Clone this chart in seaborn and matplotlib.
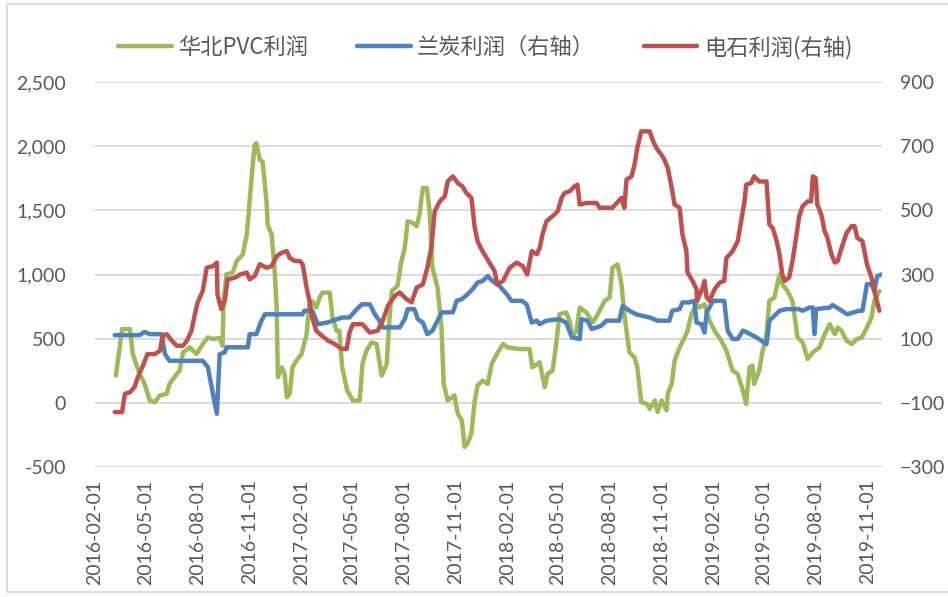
import pandas as pd
import matplotlib.pyplot as plt
import matplotlib.dates as mdates
import matplotlib.ticker as mticker
import seaborn as sns
from matplotlib.patches import Rectangle

# 华北PVC利润 (left axis)
pvc_dates = [
    "2016-03-09", "2016-03-20", "2016-04-03", "2016-04-08", "2016-04-20", "2016-04-29", "2016-05-08", "2016-05-17",
    "2016-05-26", "2016-06-07", "2016-06-12", "2016-06-25", "2016-06-30", "2016-07-06", "2016-07-18", "2016-07-30",
    "2016-08-10", "2016-08-19", "2016-08-28", "2016-09-09", "2016-09-14", "2016-09-16", "2016-09-21", "2016-10-02",
    "2016-10-09", "2016-10-20", "2016-10-27", "2016-11-01", "2016-11-06", "2016-11-10", "2016-11-13", "2016-11-19",
    "2016-11-24", "2016-12-01", "2016-12-03", "2016-12-10", "2016-12-15", "2016-12-19", "2016-12-21", "2016-12-28",
    "2017-01-02", "2017-01-06", "2017-01-11", "2017-01-16", "2017-01-23", "2017-02-01", "2017-02-10", "2017-02-15",
    "2017-02-20", "2017-02-27", "2017-03-05", "2017-03-10", "2017-03-23", "2017-03-28", "2017-04-04", "2017-04-09",
    "2017-04-14", "2017-04-23", "2017-05-03", "2017-05-15", "2017-05-20", "2017-05-27", "2017-06-05", "2017-06-14",
    "2017-06-23", "2017-07-02", "2017-07-07", "2017-07-11", "2017-07-21", "2017-07-28", "2017-08-03", "2017-08-08",
    "2017-08-17", "2017-08-24", "2017-08-29", "2017-09-04", "2017-09-11", "2017-09-16", "2017-09-21", "2017-09-30",
    "2017-10-07", "2017-10-11", "2017-10-18", "2017-10-30", "2017-11-05", "2017-11-12", "2017-11-17", "2017-11-22",
    "2017-11-29", "2017-12-05", "2017-12-10", "2017-12-19", "2017-12-28",
    "2018-01-04", "2018-01-13", "2018-01-24", "2018-02-01", "2018-02-22", "2018-03-12", "2018-03-17", "2018-03-30",
    "2018-04-08", "2018-04-13", "2018-04-22", "2018-04-29", "2018-05-04", "2018-05-16", "2018-05-22", "2018-05-27",
    "2018-06-03", "2018-06-09", "2018-06-21", "2018-07-02", "2018-07-11", "2018-07-23", "2018-08-01", "2018-08-06",
    "2018-08-15", "2018-08-22", "2018-08-27", "2018-09-05", "2018-09-14", "2018-09-19", "2018-09-26", "2018-10-06",
    "2018-10-11", "2018-10-20", "2018-10-25", "2018-11-01", "2018-11-10", "2018-11-12", "2018-11-19", "2018-11-24",
    "2018-12-03", "2018-12-12", "2018-12-17", "2018-12-24",
    "2019-01-02", "2019-01-07", "2019-01-16", "2019-01-25", "2019-02-03", "2019-02-15", "2019-02-24", "2019-03-07",
    "2019-03-16", "2019-03-25", "2019-03-31", "2019-04-06", "2019-04-11", "2019-04-14", "2019-04-23", "2019-04-28",
    "2019-05-06", "2019-05-11", "2019-05-20", "2019-05-29", "2019-06-03", "2019-06-12", "2019-06-21", "2019-06-30",
    "2019-07-09", "2019-07-18", "2019-07-27", "2019-08-08", "2019-08-17", "2019-08-26", "2019-09-04", "2019-09-09",
    "2019-09-16", "2019-09-25", "2019-10-04", "2019-10-13", "2019-10-22", "2019-10-31", "2019-11-08", "2019-11-13",
    "2019-11-22",
]
pvc_values = [
    212, 574, 574, 380, 225, 147, 18, 5, 57, 70, 147, 225, 250, 393, 432, 380,
    458, 510, 497, 505, 445, 794, 1001, 1014, 1105, 1156, 1312, 1570, 1829, 2010, 2023, 1894,
    1880, 1570, 1389, 1312, 1053, 742, 200, 277,
    225, 44, 70, 277, 329, 380, 535, 768, 794, 742, 820, 859, 859, 665, 561, 561,
    277, 96, 18, 18, 303, 406, 471, 458, 212, 303, 665, 872, 911, 1105, 1208, 1415,
    1402, 1376, 1467, 1674, 1674, 1493, 1053, 898, 587, 147, 18, 57, -85, -137, -344, -318,
    -241, 18, 135, 173, 147,
    303, 380, 458, 432, 419, 419, 277, 316, 122, 225, 251, 484, 691, 704, 639, 510,
    561, 742, 704, 626, 691, 794, 820, 1053, 1079, 924, 691, 393, 354, 277, 5, -8,
    -47, 18, -72, 18, -59, 70, 147, 329, 432, 510, 561, 691,
    768, 742, 768, 639, 561, 484, 406, 251, 225, 96, -8, 277, 290, 147, 251, 380,
    535, 794, 820, 1001, 924, 872, 794, 510, 471, 342, 393, 432, 535, 613, 535, 587,
    561, 484, 458, 497, 510, 587, 665, 794, 872,
]

# 兰炭利润 (right axis)
coke_dates = [
    "2016-03-07", "2016-04-20", "2016-04-29", "2016-05-08", "2016-05-29", "2016-06-04", "2016-06-12", "2016-08-10",
    "2016-08-19", "2016-08-28", "2016-09-04", "2016-09-09", "2016-09-18", "2016-09-21", "2016-10-29", "2016-11-01",
    "2016-11-13", "2016-11-22", "2016-11-28",
    "2017-02-03", "2017-02-06", "2017-02-20", "2017-03-02", "2017-03-18", "2017-03-28", "2017-04-14", "2017-04-27",
    "2017-05-10", "2017-05-19", "2017-06-02", "2017-06-11", "2017-06-19", "2017-06-25", "2017-07-25", "2017-08-03",
    "2017-08-08", "2017-08-20", "2017-08-26", "2017-09-04", "2017-09-12", "2017-09-21", "2017-09-30", "2017-10-07",
    "2017-10-27", "2017-11-03", "2017-11-12", "2017-11-22", "2017-12-01", "2017-12-10", "2017-12-19", "2017-12-28",
    "2018-01-05", "2018-01-18", "2018-01-31", "2018-02-08", "2018-02-26", "2018-03-07", "2018-03-16", "2018-03-25",
    "2018-03-30", "2018-04-11", "2018-05-04", "2018-05-16", "2018-05-26", "2018-06-09", "2018-06-12", "2018-06-23",
    "2018-06-30", "2018-07-17", "2018-07-26", "2018-08-18", "2018-08-24", "2018-09-05", "2018-09-17", "2018-09-28",
    "2018-10-11", "2018-10-25", "2018-11-15", "2018-11-20", "2018-12-03", "2018-12-08", "2018-12-20", "2018-12-29",
    "2019-01-02", "2019-01-11", "2019-01-16", "2019-01-20", "2019-01-25", "2019-01-31", "2019-02-20", "2019-02-26",
    "2019-03-07", "2019-03-16", "2019-03-25", "2019-04-02", "2019-04-18", "2019-05-06", "2019-05-11", "2019-05-20",
    "2019-05-29", "2019-06-10", "2019-07-03", "2019-07-09", "2019-07-21", "2019-07-27", "2019-07-30", "2019-08-02",
    "2019-08-26", "2019-08-31", "2019-09-12", "2019-09-26", "2019-10-17", "2019-10-23", "2019-10-31", "2019-11-08",
    "2019-11-13", "2019-11-18", "2019-11-26",
]
coke_values = [
    111, 111, 121, 114, 114, 52, 31, 31, 11, -72, -134, 52, 57, 73, 73, 114,
    114, 156, 176,
    176, 187, 187, 145, 150, 156, 166, 166, 192, 207, 207, 176, 156, 135, 135, 161,
    192, 192, 161, 150, 114, 125, 156, 182, 182, 218, 223, 238, 254, 275, 280, 295,
    280, 264, 238, 218, 218, 207, 150, 156, 145, 156, 161, 150, 104, 99, 161, 156,
    130, 140, 156, 156, 202, 187, 176, 171, 166, 156, 156, 187, 192, 213, 213, 218,
    150, 145, 119, 182, 197, 218, 218, 125, 99, 99, 125, 119, 104, 83, 156, 171,
    187, 192, 192, 187, 197, 197, 114, 192, 197, 205, 192, 176, 187, 187, 270, 270,
    249, 295, 300,
]

# 电石利润 (right axis)
carbide_dates = [
    "2016-03-07", "2016-03-20", "2016-03-25", "2016-04-03", "2016-04-11", "2016-04-17", "2016-04-26", "2016-05-04",
    "2016-05-17", "2016-05-26", "2016-05-31", "2016-06-07", "2016-06-16", "2016-06-25", "2016-07-06", "2016-07-13",
    "2016-07-21", "2016-07-27", "2016-08-01", "2016-08-10", "2016-08-17", "2016-08-28", "2016-09-04", "2016-09-05",
    "2016-09-12", "2016-09-18", "2016-09-23", "2016-10-06", "2016-10-15", "2016-10-27", "2016-11-01", "2016-11-10",
    "2016-11-19", "2016-12-01", "2016-12-10", "2016-12-19", "2016-12-28",
    "2017-01-06", "2017-01-11", "2017-01-20", "2017-01-29", "2017-02-03", "2017-02-10", "2017-02-15", "2017-02-20",
    "2017-02-27", "2017-03-09", "2017-03-20", "2017-04-01", "2017-04-13", "2017-04-22", "2017-04-27", "2017-05-03",
    "2017-05-20", "2017-06-02", "2017-06-16", "2017-06-25", "2017-07-04", "2017-07-16", "2017-07-25", "2017-08-06",
    "2017-08-15", "2017-08-24", "2017-09-04", "2017-09-12", "2017-09-19", "2017-09-25", "2017-10-04", "2017-10-13",
    "2017-10-18", "2017-10-27", "2017-11-05", "2017-11-13", "2017-11-20", "2017-11-29", "2017-12-05", "2017-12-10",
    "2017-12-17", "2017-12-22", "2017-12-31",
    "2018-01-09", "2018-01-14", "2018-01-24", "2018-02-05", "2018-02-17", "2018-02-28", "2018-03-08", "2018-03-16",
    "2018-03-25", "2018-03-30", "2018-04-04", "2018-04-11", "2018-04-22", "2018-05-01", "2018-05-08", "2018-05-13",
    "2018-05-22", "2018-05-31", "2018-06-05", "2018-06-09", "2018-06-21", "2018-07-09", "2018-07-14", "2018-08-06",
    "2018-08-22", "2018-08-27", "2018-08-31", "2018-09-09", "2018-09-14", "2018-09-19", "2018-09-26", "2018-10-11",
    "2018-10-16", "2018-10-23", "2018-11-01", "2018-11-06", "2018-11-12", "2018-11-19", "2018-11-24", "2018-12-03",
    "2018-12-08", "2018-12-15", "2018-12-17", "2018-12-26",
    "2019-01-02", "2019-01-03", "2019-01-13", "2019-01-16", "2019-01-20", "2019-01-25", "2019-02-03", "2019-02-12",
    "2019-02-20", "2019-02-24", "2019-03-05", "2019-03-10", "2019-03-16", "2019-03-22", "2019-03-28", "2019-03-31",
    "2019-04-09", "2019-04-14", "2019-04-23", "2019-05-06", "2019-05-11", "2019-05-17", "2019-05-24", "2019-05-29",
    "2019-06-03", "2019-06-07", "2019-06-15", "2019-06-21", "2019-06-30", "2019-07-03", "2019-07-09", "2019-07-18",
    "2019-07-24", "2019-07-27", "2019-08-01", "2019-08-04", "2019-08-11", "2019-08-17", "2019-08-22", "2019-08-29",
    "2019-09-04", "2019-09-09", "2019-09-16", "2019-09-25", "2019-10-04", "2019-10-09", "2019-10-14", "2019-10-23",
    "2019-10-31", "2019-11-08", "2019-11-13", "2019-11-22",
]
carbide_values = [
    -129, -129, -72, -67, -51, -20, 16, 52, 52, 62, 109, 114, 94, 78, 78, 94,
    125, 176, 213, 249, 321, 326, 337, 238, 192, 218, 285, 290, 300, 306, 285, 295,
    332, 321, 326, 357, 368,
    373, 352, 342, 342, 332, 259, 218, 166, 125, 109, 94, 83, 68, 68, 119, 145,
    145, 119, 125, 156, 202, 233, 244, 223, 213, 259, 269, 321, 383, 497, 528, 544,
    590, 606, 585, 575, 554, 539, 445, 404, 378, 363, 337,
    311, 269, 280, 321, 337, 326, 300, 373, 363, 383, 425, 466, 482, 497, 539, 554,
    559, 575, 580, 518, 523, 523, 508, 508, 539, 508, 596, 606, 642, 694, 746, 746,
    720, 694, 673, 658, 632, 570, 518, 508, 425, 373, 306, 280,
    254, 218, 259, 280, 228, 218, 254, 275, 280, 352, 368, 383, 404, 466, 528, 580,
    585, 606, 590, 590, 456, 445, 404, 363, 300, 280, 290, 342, 445, 482, 513, 528,
    528, 606, 601, 518, 487, 435, 414, 363, 337, 342, 383, 430, 451, 451, 414, 404,
    332, 290, 249, 187,
]

series_labels = ["华北PVC利润", "兰炭利润（右轴）", "电石利润(右轴)"]
series_colors = ["#9BBB59", "#4F81BD", "#C0504D"]
left_ticks = [-500, 0, 500, 1000, 1500, 2000, 2500]
right_ticks = [-300, -100, 100, 300, 500, 700, 900]

pvc = pd.DataFrame({"date": pd.to_datetime(pvc_dates), "value": pvc_values})
coke = pd.DataFrame({"date": pd.to_datetime(coke_dates), "value": coke_values})
carbide = pd.DataFrame({"date": pd.to_datetime(carbide_dates), "value": carbide_values})

sns.set_theme(style="white")
plt.rcParams["font.family"] = ["Lato", "Noto Sans CJK SC", "DejaVu Sans"]
grey = "#595959"

fig = plt.figure(figsize=(9.48, 5.97), dpi=100)
ax = fig.add_axes([0.1002, 0.2178, 0.8298, 0.6448])
ax2 = ax.twinx()

line_kws = dict(lw=3.2, estimator=None, errorbar=None, sort=False, legend=False,
                solid_joinstyle="round", solid_capstyle="round")
sns.lineplot(data=pvc, x="date", y="value", ax=ax, color=series_colors[0], **line_kws)
sns.lineplot(data=coke, x="date", y="value", ax=ax2, color=series_colors[1], **line_kws)
sns.lineplot(data=carbide, x="date", y="value", ax=ax2, color=series_colors[2], **line_kws)

ax.set_xlim(pd.Timestamp("2016-02-01"), pd.Timestamp("2019-11-26"))
ax.set_ylim(-500, 2500)
ax2.set_ylim(-300, 900)
ax.set_yticks(left_ticks)
ax2.set_yticks(right_ticks)
ax.yaxis.set_major_formatter(mticker.FuncFormatter(lambda v, p: f"{int(v):,}"))

ax.set_xticks(pd.date_range("2016-02-01", "2019-11-01", freq="3MS"))
ax.xaxis.set_major_formatter(mdates.DateFormatter("%Y-%m-%d"))

ax.set_xlabel("")
ax.set_ylabel("")
ax2.set_ylabel("")

ax.yaxis.grid(True, color="#D9D9D9", lw=1.3)
ax.xaxis.grid(False)
ax.set_axisbelow(True)

for a in (ax, ax2):
    for s in a.spines.values():
        s.set_visible(False)

ax.tick_params(axis="x", length=0, pad=9, labelsize=14, labelcolor=grey, rotation=90)
ax.tick_params(axis="y", length=0, pad=21, labelsize=14, labelcolor=grey)
ax2.tick_params(axis="y", length=0, pad=13, labelsize=14, labelcolor=grey)

handles = [ax.lines[0], ax2.lines[0], ax2.lines[1]]
leg = fig.legend(handles, series_labels, loc="center", bbox_to_anchor=(0.512, 0.921), ncol=3,
                 frameon=False, handlelength=2.4, handletextpad=0.3, columnspacing=2.2,
                 prop={"family": ["Noto Sans CJK SC", "DejaVu Sans"], "size": 16})
for t in leg.get_texts():
    t.set_color(grey)

# chart area border
fig.patches.append(Rectangle((0.0074, 0.0084), 1.1, 0.985, transform=fig.transFigure,
                             fill=False, ec="#D9D9D9", lw=1.3))

fig.savefig("out.png", dpi=100)
